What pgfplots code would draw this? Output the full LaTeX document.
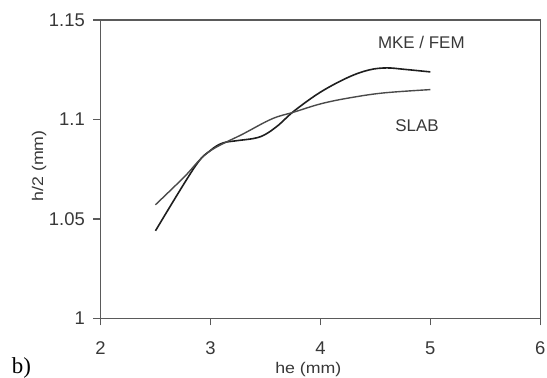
\documentclass[border=0pt]{standalone}
\usepackage{fontspec}
\setmainfont{Liberation Sans}
\newfontfamily\seriffont{Liberation Serif}
\usepackage{graphicx}
\usepackage{pgfplots}
\pgfplotsset{compat=1.18}
\definecolor{axgray}{HTML}{5A5A5A}
\definecolor{txtgray}{HTML}{383838}
\definecolor{mkecol}{HTML}{1E1E1E}
\definecolor{slabcol}{HTML}{4A4A4A}
\begin{document}
\begin{tikzpicture}
\begin{axis}[
  at={(100.5bp,59.7bp)}, anchor=south west,
  scale only axis, width=439.8bp, height=298.3bp,
  xmin=2, xmax=6, ymin=1, ymax=1.15,
  xtick={2,3,4,5,6}, xticklabels={2,3,4,5,6},
  ytick={1,1.05,1.1,1.15}, yticklabels={1,1.05,1.1,1.15},
  tick align=outside, tick pos=left, major tick length=7bp,
  axis line style={draw=axgray, line width=1.3bp},
  every tick/.style={draw=axgray, line width=1.3bp},
  ticklabel style={font=\fontsize{18.5}{20}\selectfont, text=txtgray, inner sep=1bp},
  xticklabel style={yshift=-15bp},
  yticklabel style={xshift=-7.5bp},
  /pgf/number format/assume math mode=true,
  xlabel={\scalebox{1.15}[1]{he (mm)}},
  ylabel={\scalebox{1.15}[1]{h/2 (mm)}},
  label style={font=\fontsize{15.5}{17}\selectfont, text=txtgray, inner sep=0pt},
  xlabel style={at={(axis description cs:0.4725,-0.170)}, anchor=center},
  ylabel style={at={(axis description cs:-0.1398,0.511)}, anchor=center, rotate=0},
  clip=false,
]
\addplot[mkecol, line width=1.6bp, smooth, tension=0.6] coordinates {
  (2.5,1.0440) (2.857,1.0761) (3.0,1.0844) (3.11,1.0881) (3.238,1.0893)
  (3.40,1.0905) (3.50,1.0925) (3.62,1.0972) (3.76,1.1042) (4.0,1.1137) (4.254,1.1212)
  (4.444,1.1249) (4.603,1.1259) (4.762,1.1252) (5.0,1.1239)
};
\addplot[slabcol, line width=1.4bp, smooth, tension=0.6] coordinates {
  (2.5,1.0571) (2.76,1.0710) (2.98,1.0835) (3.30,1.0928) (3.56,1.1003)
  (3.76,1.1037) (4.0,1.1078) (4.25,1.1107) (4.57,1.1133) (5.0,1.1150)
};
\node[font=\fontsize{17}{19}\selectfont, text=txtgray] at (axis cs:4.918,1.1388) {MKE / FEM};
\node[font=\fontsize{17}{19}\selectfont, text=txtgray] at (axis cs:4.879,1.0969) {SLAB};
\end{axis}
\node[anchor=base west, inner sep=0pt, font=\seriffont\fontsize{23}{25}\selectfont, text=black] at (11.7bp,5bp) {b)};
\pgfresetboundingbox
\path[use as bounding box] (0,0) rectangle (547bp,378bp);
\end{tikzpicture}
\end{document}
